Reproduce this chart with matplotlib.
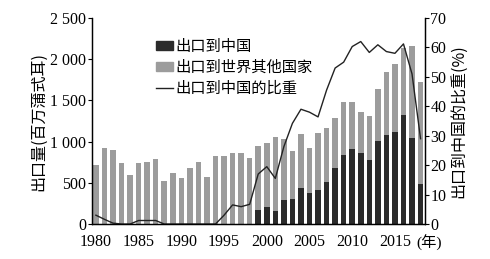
import numpy as np
import matplotlib.pyplot as plt
from matplotlib.patches import Patch
from matplotlib.lines import Line2D

plt.rcParams['font.family'] = ['Liberation Serif', 'Noto Sans CJK SC']

# Years 1980-2018
years = list(range(1980, 2019))

# Exports to China (million bushels)
to_china = [0, 0, 0, 0, 0, 0, 0, 0, 0, 0,
            0, 0, 0, 0, 0, 0, 0, 0, 0, 175,
            210, 162, 291, 302, 433, 372, 417, 504, 680, 832,
            907, 858, 777, 1008, 1080, 1121, 1323, 1040, 486]

# Exports to rest of world (million bushels)
to_others = [716, 919, 898, 737, 595, 737, 749, 793, 526, 623,
             555, 676, 749, 574, 820, 826, 862, 862, 797, 773,
             770, 890, 737, 586, 655, 547, 688, 658, 603, 653,
             578, 506, 534, 627, 762, 818, 817, 1121, 1242]

# Share of exports going to China (%)
china_share = [3.0, 1.6, 0.3, 0, 0, 1.2, 1.2, 1.2, 0, 0,
               0, 0, 0, 0, 0, 3.0, 6.5, 5.9, 6.7, 17.0,
               19.5, 15.5, 26.3, 34.2, 39.0, 38.0, 36.4, 45.5, 53.0, 55.0,
               60.3, 62.0, 58.3, 60.9, 58.6, 58.0, 61.2, 51.0, 29.0]

left_ticks = [0, 500, 1000, 1500, 2000, 2500]
left_labels = ['0', '500', '1 000', '1 500', '2 000', '2 500']
right_ticks = [0, 10, 20, 30, 40, 50, 60, 70]
x_ticks = [1980, 1985, 1990, 1995, 2000, 2005, 2010, 2015]

dark = '#2b2b2b'
gray = '#9c9c9c'

fig = plt.figure(figsize=(4.9, 2.59), dpi=100)
ax = fig.add_axes([0.187, 0.135, 0.68, 0.7955])
ax2 = ax.twinx()

ax.bar(years, to_china, width=0.65, color=dark)
ax.bar(years, to_others, width=0.65, bottom=to_china, color=gray)
ax2.plot(years, china_share, color='#222222', lw=1.0)

ax.set_xlim(1979.5, 2018.5)
ax.set_ylim(0, 2500)
ax2.set_ylim(0, 70)

ax.set_yticks(left_ticks)
ax.set_yticklabels(left_labels)
ax2.set_yticks(right_ticks)
ax.set_xticks(x_ticks)

for a in (ax, ax2):
    a.spines['top'].set_visible(False)
    for s in a.spines.values():
        s.set_linewidth(0.9)
ax.tick_params(axis='y', length=3, width=0.8, labelsize=11.5, pad=1)
ax2.tick_params(axis='y', length=3, width=0.8, labelsize=11.5, pad=1)
ax.tick_params(axis='x', length=0, labelsize=11.5, pad=7)

ax.set_ylabel('出口量(百万蒲式耳)', fontsize=11.5, family=['Noto Sans CJK SC'], labelpad=2)
ax2.set_ylabel('出口到中国的比重(%)', fontsize=11.5, family=['Noto Sans CJK SC'],
               rotation=90, labelpad=3)

fig.text(0.876, 0.062, '(年)', fontsize=11, ha='center', va='center',
         family=['Liberation Serif', 'Noto Sans CJK SC'])

handles = [Patch(color=dark), Patch(color=gray), Line2D([], [], color='#222222', lw=1.0)]
labels = ['出口到中国', '出口到世界其他国家', '出口到中国的比重']
ax2.legend(handles, labels, loc='upper left', bbox_to_anchor=(0.17, 0.94),
           frameon=False, borderpad=0, handlelength=1.1, handleheight=0.6,
           handletextpad=0.2, labelspacing=0.25,
           prop={'family': 'Noto Sans CJK SC', 'size': 11})

fig.savefig('out.png', dpi=100)
